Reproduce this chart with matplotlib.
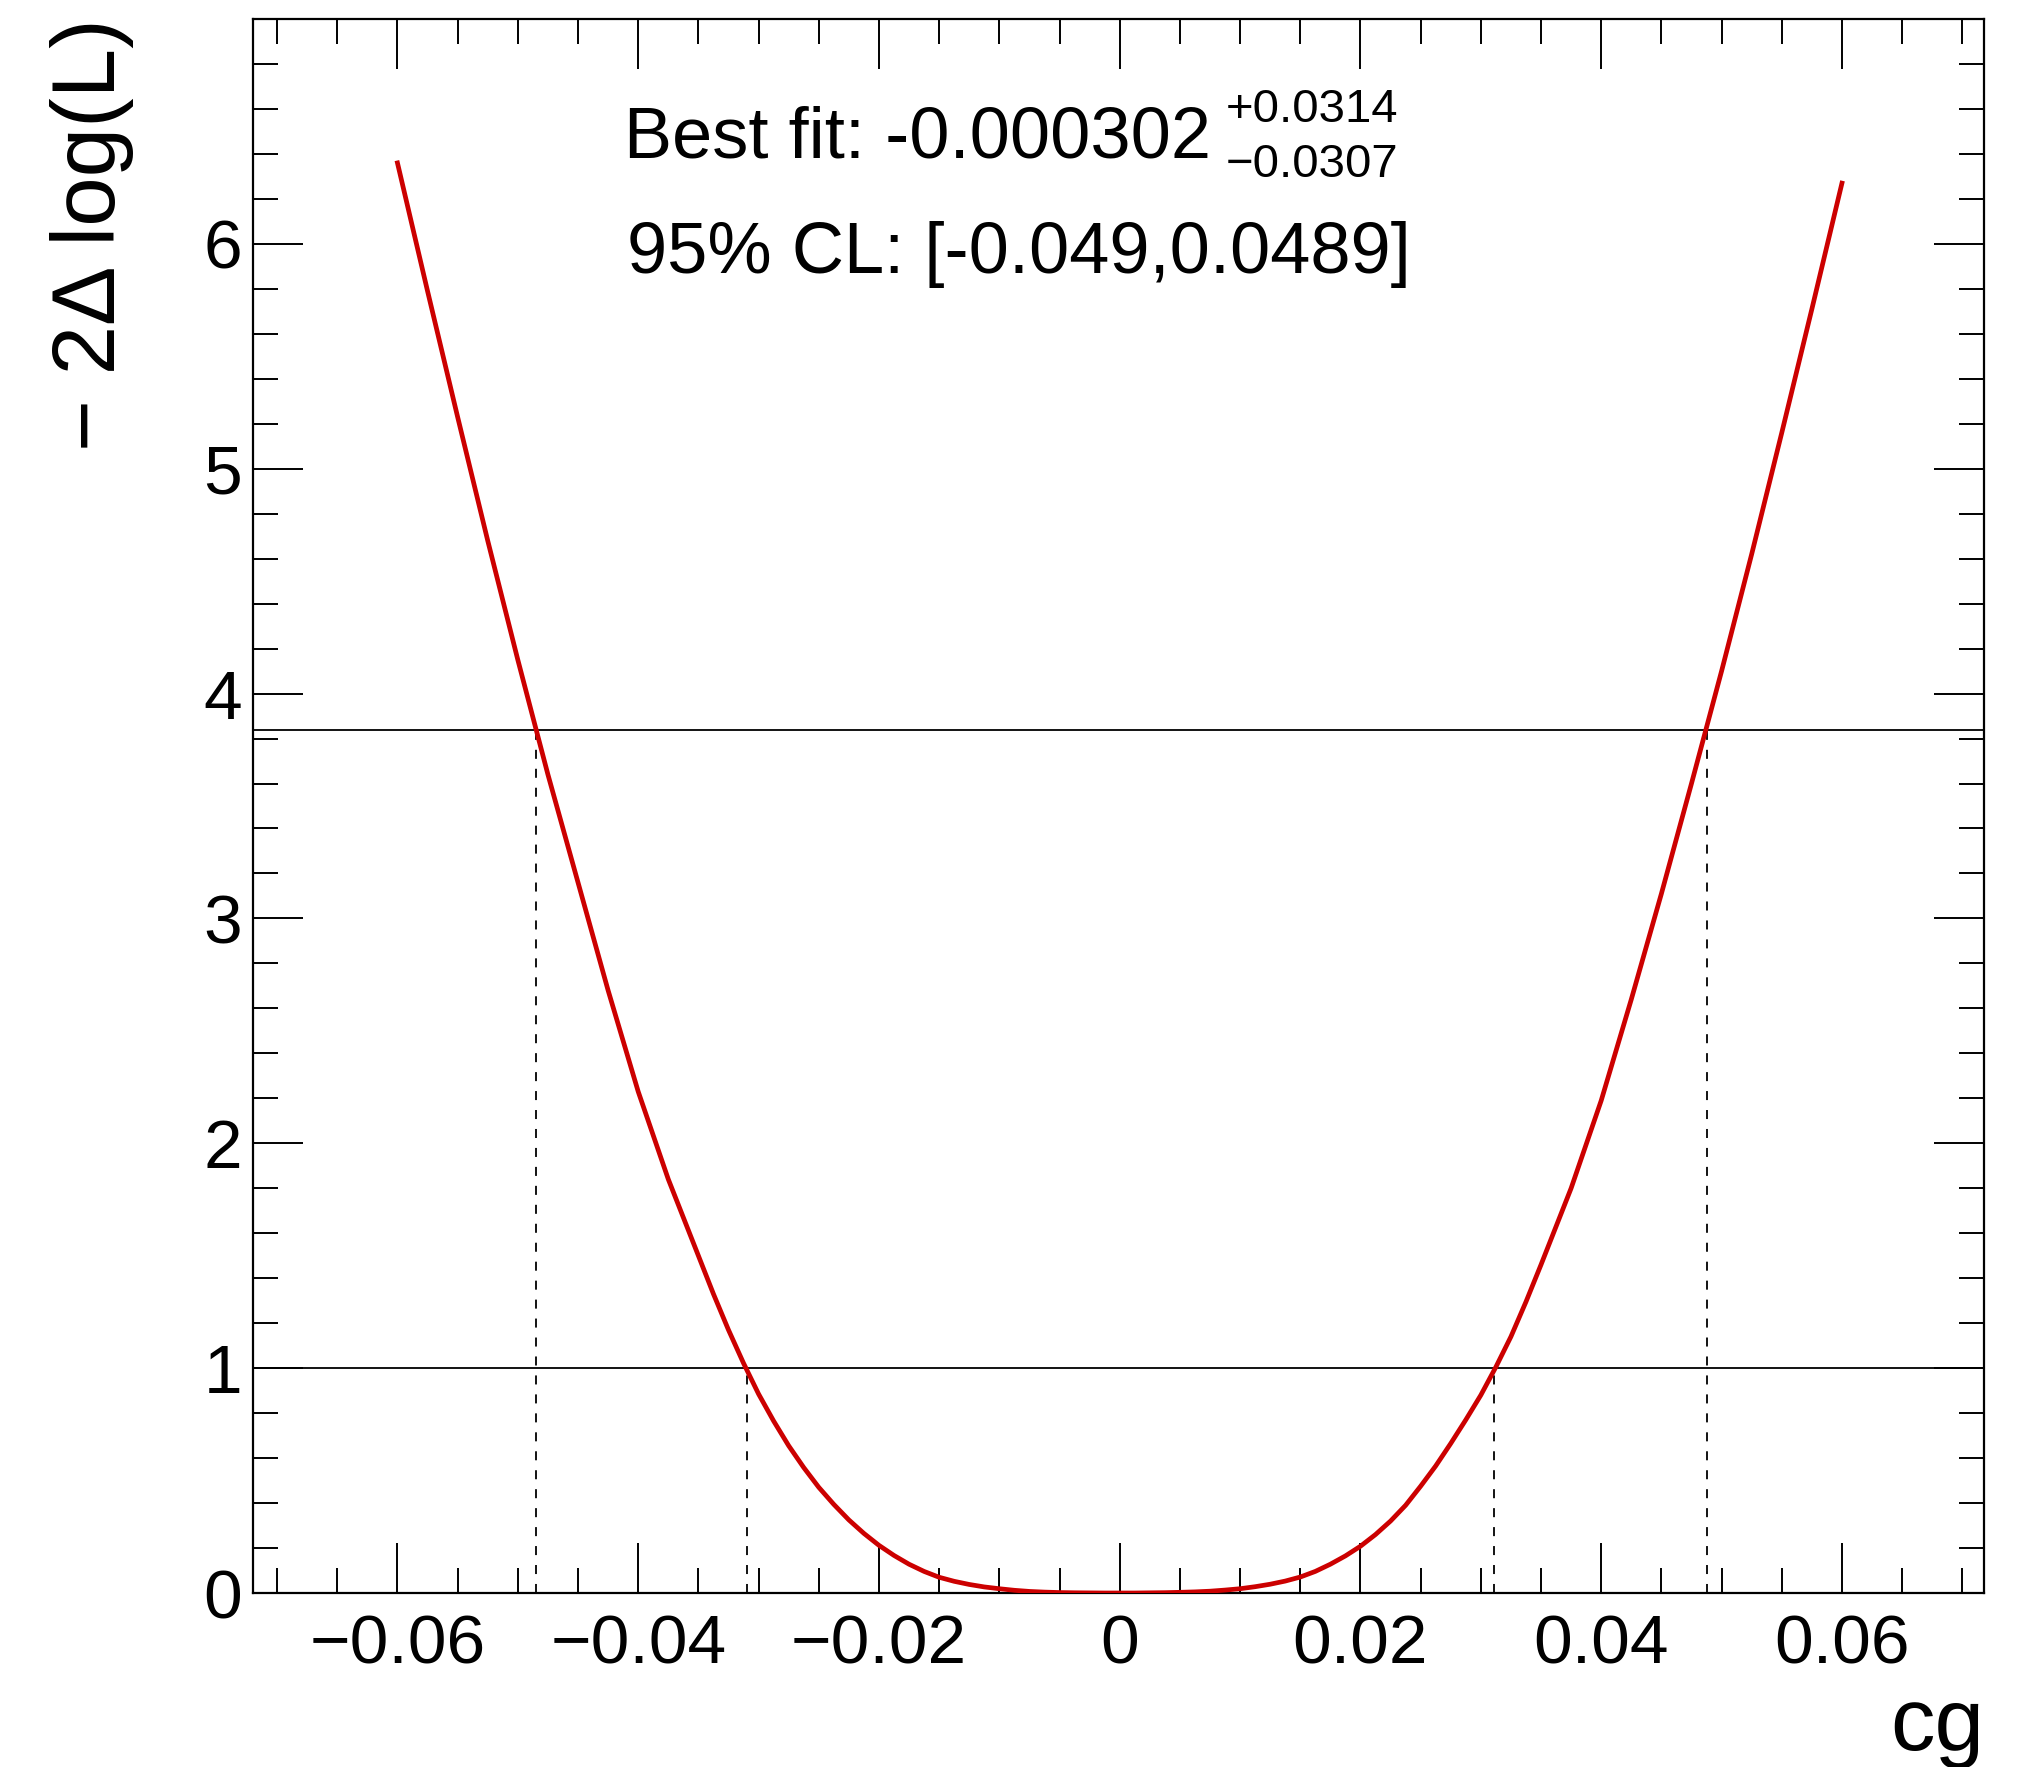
import matplotlib
matplotlib.use("Agg")
import matplotlib.pyplot as plt
from matplotlib.ticker import FixedLocator, FixedFormatter, MultipleLocator

# likelihood scan (denser where the curve bends)
cg = [-0.0600, -0.0575, -0.0550, -0.0525, -0.0500, -0.0475, -0.0450, -0.0425,
      -0.0400, -0.0375,
      -0.03500, -0.03375, -0.03250, -0.03125, -0.03000, -0.02875, -0.02750, -0.02625,
      -0.02500, -0.02375, -0.02250, -0.02125, -0.02000, -0.01875, -0.01750, -0.01625,
      -0.01500, -0.01375, -0.01250, -0.01125, -0.01000, -0.00875, -0.00750, -0.00625,
      -0.00500, -0.00375, -0.00250, -0.00125,
      0.0,
      0.00125, 0.00250, 0.00375, 0.00500, 0.00625, 0.00750, 0.00875, 0.01000,
      0.01125, 0.01250, 0.01375, 0.01500, 0.01625, 0.01750, 0.01875, 0.02000,
      0.02125, 0.02250, 0.02375, 0.02500, 0.02625, 0.02750, 0.02875, 0.03000,
      0.03125, 0.03250, 0.03375, 0.03500,
      0.0375, 0.0400, 0.0425, 0.0450, 0.0475, 0.0500, 0.0525, 0.0550, 0.0575, 0.0600]
nll = [6.36, 5.79, 5.23, 4.68, 4.15, 3.64, 3.16, 2.68,
       2.23, 1.84,
       1.50, 1.33, 1.17, 1.022, 0.885, 0.765, 0.655, 0.558,
       0.47, 0.394, 0.325, 0.265, 0.212, 0.167, 0.128, 0.096,
       0.070, 0.052, 0.038, 0.027, 0.019, 0.012, 0.007, 0.004,
       0.002, 0.001, 0.0005, 0.0,
       0.0,
       0.0, 0.0008, 0.0015, 0.003, 0.005, 0.008, 0.013, 0.019,
       0.028, 0.039, 0.053, 0.071, 0.096, 0.128, 0.165, 0.208,
       0.26, 0.32, 0.39, 0.475, 0.565, 0.665, 0.77, 0.88,
       1.005, 1.14, 1.295, 1.46,
       1.80, 2.19, 2.64, 3.11, 3.60, 4.10, 4.62, 5.16, 5.71, 6.27]

# crossing levels and intervals
levels = [1.0, 3.84]
interval_68 = [-0.0310, 0.0311]
interval_95 = [-0.0485, 0.0488]

xticks = [-0.06, -0.04, -0.02, 0.0, 0.02, 0.04, 0.06]
xtick_labels = ["\u22120.06", "\u22120.04", "\u22120.02", "0", "0.02", "0.04", "0.06"]
yticks = [0, 1, 2, 3, 4, 5, 6]
ytick_labels = ["0", "1", "2", "3", "4", "5", "6"]

best_fit = "Best fit: -0.000302"
err_up = "+0.0314"
err_down = "\u22120.0307"
cl_text = "95% CL: [-0.049,0.0489]"

W, H = 2023, 1767
plt.rcParams["font.family"] = ["Liberation Sans", "DejaVu Sans"]

fig = plt.figure(figsize=(W / 100, H / 100), dpi=100)
ax = fig.add_axes([253 / W, 1 - 1593 / H, (1984 - 253) / W, (1593 - 19) / H])

red = "#cc0000"
ax.plot(cg, nll, color=red, lw=3.4, zorder=3, solid_joinstyle="round")

for lev in levels:
    ax.axhline(lev, color="black", lw=1.3, zorder=2)
for x in interval_68:
    ax.plot([x, x], [0, levels[0]], color="black", lw=1.3, ls=(0, (5, 5.5)), zorder=2)
for x in interval_95:
    ax.plot([x, x], [0, levels[1]], color="black", lw=1.3, ls=(0, (5, 5.5)), zorder=2)

ax.set_xlim(-0.0720, 0.0718)
ax.set_ylim(0, 7)

ax.xaxis.set_major_locator(FixedLocator(xticks))
ax.xaxis.set_major_formatter(FixedFormatter(xtick_labels))
ax.xaxis.set_minor_locator(MultipleLocator(0.005))
ax.yaxis.set_major_locator(FixedLocator(yticks))
ax.yaxis.set_major_formatter(FixedFormatter(ytick_labels))
ax.yaxis.set_minor_locator(MultipleLocator(0.2))

ax.tick_params(which="both", direction="in", top=True, right=True, width=1.4, colors="black")
ax.tick_params(which="major", length=36)
ax.tick_params(which="minor", length=18)
ax.tick_params(axis="x", which="major", labelsize=50, pad=15)
ax.tick_params(axis="y", which="major", labelsize=50, pad=8)
for sp in ax.spines.values():
    sp.set_linewidth(1.6)

# axis titles, ROOT style
fig.text(1984 / W, 1 - 1750 / H, "cg", fontsize=64, ha="right", va="baseline")
fig.text(115 / W, 1 - 18 / H, "\u2212 2\u0394 log(L)", fontsize=64, rotation=90,
         rotation_mode="anchor", ha="right", va="baseline")

# fit result
fig.text(624 / W, 1 - 157 / H, best_fit, fontsize=52, ha="left", va="baseline")
fig.text(1226 / W, 1 - 122 / H, err_up, fontsize=34, ha="left", va="baseline")
fig.text(1226 / W, 1 - 177 / H, err_down, fontsize=34, ha="left", va="baseline")
fig.text(627 / W, 1 - 273 / H, cl_text, fontsize=52, ha="left", va="baseline")

fig.savefig("out.png", dpi=100)
